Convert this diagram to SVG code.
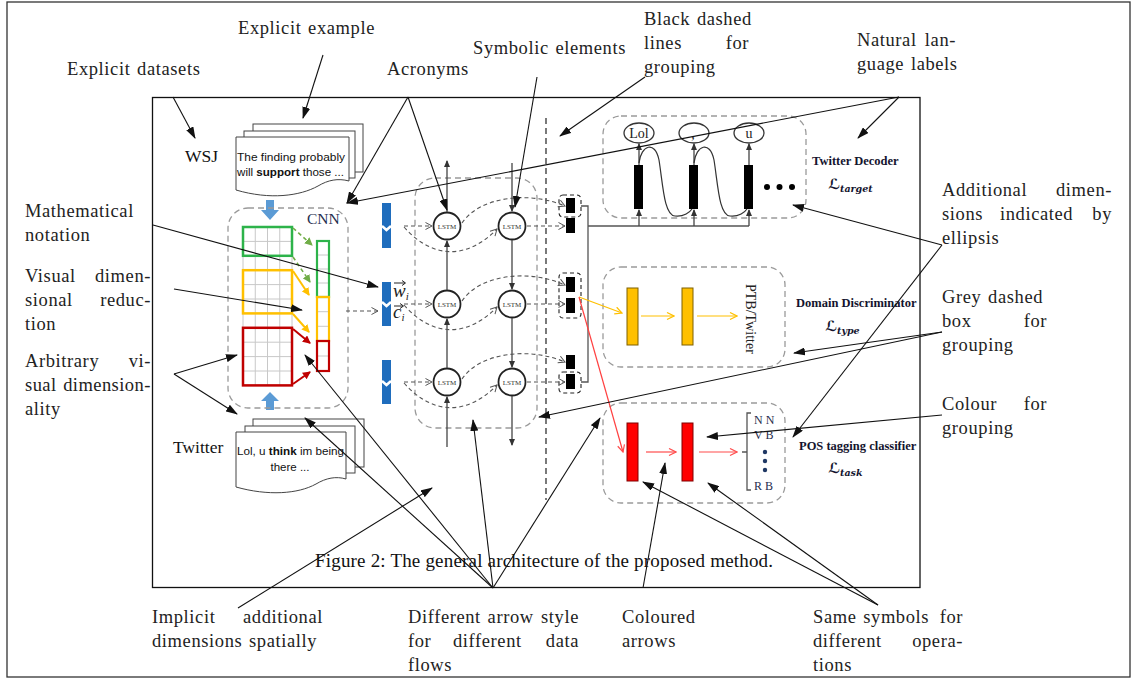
<svg xmlns="http://www.w3.org/2000/svg" width="1135" height="679" viewBox="0 0 1135 679">
<defs>
<style>
.t{font-family:"Liberation Serif","Times New Roman",serif;font-size:18.5px;fill:#222;letter-spacing:0.6px;word-spacing:1.5px}
.te{text-anchor:end}
.ann{fill:none;stroke:#111;stroke-width:1.1;marker-end:url(#mA)}
.gbox{fill:none;stroke:#9a9a9a;stroke-width:1.3;stroke-dasharray:6 4}
.dflow{fill:none;stroke:#555;stroke-width:1.1;stroke-dasharray:4 3;marker-end:url(#mO)}
.cir{fill:#fff;stroke:#222;stroke-width:1.8}
.lt{font-family:"Liberation Serif",serif;font-size:7px;text-anchor:middle;fill:#333}
.vl{fill:none;stroke:#444;stroke-width:1.3}
.vla{fill:none;stroke:#444;stroke-width:1.3;marker-end:url(#mS)}
.grid{stroke:#c8c8c8;stroke-width:1}
.fig{font-family:"Liberation Serif","Times New Roman",serif;fill:#111}
.bold{font-family:"Liberation Serif","Times New Roman",serif;font-weight:bold;font-size:12.5px;fill:#14142e}
.ls{font-family:"DejaVu Serif","DejaVu Sans",serif;font-weight:bold;font-style:italic;font-size:14px;fill:#14142e}
.doc{fill:#fff;stroke:#444;stroke-width:1}
.dt{font-family:"Liberation Sans",Arial,sans-serif;font-size:11.5px;fill:#111}
.blue{fill:#1f6dbd}
.notch{fill:none;stroke:#fff;stroke-width:2.5}
.bdash{fill:none;stroke:#222;stroke-width:1.1;stroke-dasharray:4 3}
</style>
<marker id="mA" markerUnits="userSpaceOnUse" markerWidth="12" markerHeight="8" refX="11" refY="4" orient="auto"><path d="M0,0 L12,4 L0,8 Z" fill="#111"/></marker>
<marker id="mO" markerUnits="userSpaceOnUse" markerWidth="9" markerHeight="9" refX="7.5" refY="4" orient="auto"><path d="M1,0.5 L7.5,4 L1,7.5" fill="none" stroke="#555" stroke-width="1"/></marker>
<marker id="mS" markerUnits="userSpaceOnUse" markerWidth="7" markerHeight="6" refX="6" refY="3" orient="auto"><path d="M0,0 L7,3 L0,6 Z" fill="#333"/></marker>
<marker id="mG" markerUnits="userSpaceOnUse" markerWidth="8" markerHeight="8" refX="7" refY="4" orient="auto"><path d="M0,0 L8,4 L0,8 Z" fill="#70ad47"/></marker>
<marker id="mYF" markerUnits="userSpaceOnUse" markerWidth="8" markerHeight="8" refX="7" refY="4" orient="auto"><path d="M0,0 L8,4 L0,8 Z" fill="#ffc000"/></marker>
<marker id="mRF" markerUnits="userSpaceOnUse" markerWidth="8" markerHeight="8" refX="7" refY="4" orient="auto"><path d="M0,0 L8,4 L0,8 Z" fill="#c00000"/></marker>
<marker id="mYL" markerUnits="userSpaceOnUse" markerWidth="9" markerHeight="9" refX="8" refY="4.5" orient="auto"><path d="M1,1 L8,4.5 L1,8" fill="none" stroke="#ffc000" stroke-width="1.2"/></marker>
<marker id="mRL" markerUnits="userSpaceOnUse" markerWidth="9" markerHeight="9" refX="8" refY="4.5" orient="auto"><path d="M1,1 L8,4.5 L1,8" fill="none" stroke="#ff4d4d" stroke-width="1.2"/></marker>
</defs>

<rect x="0" y="0" width="1135" height="679" fill="#fff"/>
<rect x="7" y="2" width="1123" height="675" fill="none" stroke="#333" stroke-width="1.3"/>

<g id="figure-frame">
<rect x="152.5" y="97.5" width="767.5" height="490" fill="none" stroke="#111" stroke-width="1.3"/>
<text class="fig" x="315" y="567" font-size="19" textLength="458" lengthAdjust="spacing">Figure 2: The general architecture of the proposed method.</text>
</g>

<g id="wsj">
<text class="fig" x="185" y="162" font-size="17.5">WSJ</text>
<rect class="doc" x="253" y="124" width="110" height="48"/>
<rect class="doc" x="244" y="131" width="111" height="47"/>
<path class="doc" d="M236,137 H349 V181 C 338,178 328,180 318,186 C 300,196 270,200 236,190 Z"/>
<text class="dt" x="237" y="161" textLength="108" lengthAdjust="spacingAndGlyphs">The finding probably</text>
<text class="dt" x="237" y="176" textLength="107" lengthAdjust="spacingAndGlyphs">will <tspan font-weight="bold">support</tspan> those ...</text>
<path d="M266,200 H274 V210 H279 L270,220 L261,210 H266 Z" fill="#5b9bd5"/>
</g>

<g id="twitter">
<text class="fig" x="173" y="453" font-size="17.5">Twitter</text>
<rect class="doc" x="253" y="419" width="111" height="48"/>
<rect class="doc" x="245" y="426" width="110" height="47"/>
<path class="doc" d="M236,432 H346 V479 C 336,476 326,478 316,484 C 298,494 268,496 236,487 Z"/>
<text class="dt" x="237" y="455" textLength="107" lengthAdjust="spacingAndGlyphs">Lol, u <tspan font-weight="bold">think</tspan> im being</text>
<text class="dt" x="290" y="471" text-anchor="middle">there ...</text>
<path d="M266,410 H274 V401 H279 L270,392 L261,401 H266 Z" fill="#5b9bd5"/>
</g>

<g id="cnn">
<rect class="gbox" x="228" y="208" width="120" height="200" rx="20"/>
<text x="307" y="224" font-family="Liberation Serif, serif" font-size="15.5" fill="#1f3050">CNN</text>
<g class="grid">
<line x1="243" y1="227" x2="243" y2="385.4"/><line x1="255.25" y1="227" x2="255.25" y2="385.4"/><line x1="267.5" y1="227" x2="267.5" y2="385.4"/><line x1="279.75" y1="227" x2="279.75" y2="385.4"/><line x1="292" y1="227" x2="292" y2="385.4"/>
<line x1="243" y1="241.4" x2="292" y2="241.4"/><line x1="243" y1="255.8" x2="292" y2="255.8"/><line x1="243" y1="270.2" x2="292" y2="270.2"/><line x1="243" y1="284.6" x2="292" y2="284.6"/><line x1="243" y1="299" x2="292" y2="299"/><line x1="243" y1="313.4" x2="292" y2="313.4"/><line x1="243" y1="327.8" x2="292" y2="327.8"/><line x1="243" y1="342.2" x2="292" y2="342.2"/><line x1="243" y1="356.6" x2="292" y2="356.6"/><line x1="243" y1="371" x2="292" y2="371"/><line x1="243" y1="385.4" x2="292" y2="385.4"/>
<line x1="317" y1="255" x2="329" y2="255"/><line x1="317" y1="269" x2="329" y2="269"/><line x1="317" y1="283" x2="329" y2="283"/><line x1="317" y1="311.7" x2="329" y2="311.7"/><line x1="317" y1="326.3" x2="329" y2="326.3"/><line x1="317" y1="356" x2="329" y2="356"/>
</g>
<rect x="243" y="227" width="49" height="28.8" fill="none" stroke="#2db34a" stroke-width="2.5"/>
<rect x="243" y="270.2" width="49" height="43.2" fill="none" stroke="#ffc000" stroke-width="2.5"/>
<rect x="243" y="327.8" width="49" height="57.6" fill="none" stroke="#c00000" stroke-width="2.5"/>
<rect x="317" y="241" width="12" height="56" fill="none" stroke="#2db34a" stroke-width="2.2"/>
<rect x="317" y="297" width="12" height="44" fill="none" stroke="#ffc000" stroke-width="2.2"/>
<rect x="317" y="341" width="12" height="30" fill="none" stroke="#c00000" stroke-width="2.2"/>
<path d="M293,228 L312,245" fill="none" stroke="#70ad47" stroke-width="1.6" stroke-dasharray="4 3" marker-end="url(#mG)"/>
<path d="M293,257 L310,282" fill="none" stroke="#70ad47" stroke-width="1.6" stroke-dasharray="4 3" marker-end="url(#mG)"/>
<path d="M293,271 L309,295" fill="none" stroke="#ffc000" stroke-width="2" marker-end="url(#mYF)"/>
<path d="M293,314 L309,332" fill="none" stroke="#ffc000" stroke-width="2" marker-end="url(#mYF)"/>
<path d="M293,329 L310,343" fill="none" stroke="#c00000" stroke-width="2" marker-end="url(#mRF)"/>
<path d="M293,384 L310,372" fill="none" stroke="#c00000" stroke-width="2" marker-end="url(#mRF)"/>
</g>

<g id="inputs">
<rect class="blue" x="382" y="203" width="9" height="45"/>
<polyline class="notch" points="382,226 386.5,230 391,226"/>
<rect class="blue" x="382" y="282" width="9" height="44"/>
<polyline class="notch" points="382,302 386.5,306 391,302"/>
<rect class="blue" x="382" y="360" width="9" height="44"/>
<polyline class="notch" points="382,381 386.5,385 391,381"/>
<text x="393" y="297" font-family="Liberation Serif, serif" font-style="italic" font-size="19" fill="#222">w<tspan font-size="11" dy="3">i</tspan></text>
<path d="M394,283 H405 M402,280.5 L405.5,283 L402,285.5" fill="none" stroke="#222" stroke-width="1"/>
<text x="393" y="318" font-family="Liberation Serif, serif" font-style="italic" font-size="19" fill="#222">c<tspan font-size="11" dy="3">i</tspan></text>
<path d="M394,306 H403 M400,303.5 L403.5,306 L400,308.5" fill="none" stroke="#222" stroke-width="1"/>
</g>

<g id="bilstm">
<rect class="gbox" x="415" y="178" width="122" height="250" rx="20"/>
<circle class="cir" cx="447" cy="226" r="13.5"/><text class="lt" x="447" y="228.5">LSTM</text>
<circle class="cir" cx="512" cy="226" r="13.5"/><text class="lt" x="512" y="228.5">LSTM</text>
<circle class="cir" cx="447" cy="304" r="13.5"/><text class="lt" x="447" y="306.5">LSTM</text>
<circle class="cir" cx="512" cy="304" r="13.5"/><text class="lt" x="512" y="306.5">LSTM</text>
<circle class="cir" cx="447" cy="382" r="13.5"/><text class="lt" x="447" y="384.5">LSTM</text>
<circle class="cir" cx="512" cy="382" r="13.5"/><text class="lt" x="512" y="384.5">LSTM</text>
</g>

<g id="outputs">
<rect x="566" y="198" width="9" height="15" fill="#000"/>
<rect x="566" y="218" width="9" height="15" fill="#000"/>
<rect x="566" y="277" width="9" height="15" fill="#000"/>
<rect x="566" y="298" width="9" height="15" fill="#000"/>
<rect x="566" y="355" width="9" height="14" fill="#000"/>
<rect x="566" y="374" width="9" height="15" fill="#000"/>
<rect class="bdash" x="559" y="195" width="22" height="22" rx="4"/>
<rect class="bdash" x="559" y="273" width="22" height="45" rx="4"/>
<rect class="bdash" x="559" y="372" width="22" height="21" rx="4"/>
<line x1="546" y1="118" x2="546" y2="500" stroke="#222" stroke-width="1.2" stroke-dasharray="6 4"/>
</g>

<g id="twitter-decoder">
<rect class="gbox" x="603" y="116" width="203" height="102" rx="18"/>
<ellipse cx="639" cy="133" rx="15" ry="10" fill="#fff" stroke="#333" stroke-width="1.3"/>
<ellipse cx="694" cy="133" rx="15" ry="10" fill="#fff" stroke="#333" stroke-width="1.3"/>
<ellipse cx="749" cy="133" rx="15" ry="10" fill="#fff" stroke="#333" stroke-width="1.3"/>
<text x="639" y="138" font-family="Liberation Serif, serif" font-size="14" text-anchor="middle" fill="#222">Lol</text>
<text x="693" y="139" font-family="Liberation Serif, serif" font-size="14" text-anchor="middle" fill="#222">,</text>
<text x="749" y="138" font-family="Liberation Serif, serif" font-size="14" text-anchor="middle" fill="#222">u</text>
<rect x="634" y="165" width="9" height="44" fill="#000"/>
<rect x="689" y="165" width="9" height="44" fill="#000"/>
<rect x="744" y="165" width="9" height="44" fill="#000"/>
<circle cx="767" cy="187" r="3" fill="#000"/><circle cx="779.5" cy="187" r="3" fill="#000"/><circle cx="792" cy="187" r="3" fill="#000"/>
<text class="bold" x="812" y="165" font-size="12">Twitter Decoder</text>
<text class="ls" x="828" y="189">ℒ<tspan font-size="9.5" dy="3">target</tspan></text>
</g>

<g id="domain-discriminator">
<rect class="gbox" x="603" y="267" width="182" height="100" rx="18"/>
<rect x="627" y="288" width="11" height="57" fill="#ffc000" stroke="#7f6000" stroke-width="1"/>
<rect x="682" y="288" width="11" height="57" fill="#ffc000" stroke="#7f6000" stroke-width="1"/>
<text x="746" y="284" transform="rotate(90 746 284)" font-family="Liberation Serif, serif" font-size="14" fill="#222">PTB/Twitter</text>
<text class="bold" x="796" y="307">Domain Discriminator</text>
<text class="ls" x="825" y="331">ℒ<tspan font-size="9.5" dy="3">type</tspan></text>
</g>

<g id="pos-classifier">
<rect class="gbox" x="603" y="403" width="182" height="100" rx="18"/>
<rect x="627" y="423" width="11" height="58" fill="#ff0000" stroke="#800000" stroke-width="1"/>
<rect x="682" y="423" width="11" height="58" fill="#ff0000" stroke="#800000" stroke-width="1"/>
<path d="M742,452 H747 M751,413 H747 V490 H751" fill="none" stroke="#555" stroke-width="1.3"/>
<g font-family="Liberation Serif, serif" font-size="12" fill="#1f2d4d">
<text x="754" y="424">N N</text>
<text x="754" y="439">V B</text>
<text x="754" y="490">R B</text>
</g>
<circle cx="765" cy="452" r="2.2" fill="#1f3864"/><circle cx="765" cy="461" r="2.2" fill="#1f3864"/><circle cx="765" cy="470" r="2.2" fill="#1f3864"/>
<text class="bold" x="799" y="450">POS tagging classifier</text>
<text class="ls" x="828" y="473">ℒ<tspan font-size="9.5" dy="3">task</tspan></text>
</g>

<g id="connectors">
<path d="M346,311 H378" class="dflow"/>
<path class="vla" d="M447,447 V397"/>
<path class="vla" d="M447,368 V319"/><path class="vla" d="M447,290 V241"/><path class="vla" d="M447,212 V161"/>
<path class="vla" d="M512,163 V211"/><path class="vla" d="M512,240 V289"/><path class="vla" d="M512,318 V367"/><path class="vla" d="M512,396 V445"/>
<path class="dflow" d="M404,226 H432"/><path class="dflow" d="M404,227 C 435,262 470,257 497,229"/><path class="dflow" d="M462,223 C 480,196 530,191 565,206"/><path class="dflow" d="M527,226 H565"/>
<path class="dflow" d="M404,304 H432"/><path class="dflow" d="M404,305 C 435,340 470,335 497,307"/><path class="dflow" d="M462,301 C 480,274 530,269 565,285"/><path class="dflow" d="M527,304 H565"/>
<path class="dflow" d="M404,382 H432"/><path class="dflow" d="M404,383 C 435,418 470,413 497,385"/><path class="dflow" d="M462,379 C 480,352 530,347 565,362"/><path class="dflow" d="M527,382 H565"/>
<path d="M581,206 H588 V382 H581 M588,226 H749" fill="none" stroke="#555" stroke-width="1.3"/>
<path class="vla" d="M639,226 V210"/><path class="vla" d="M694,226 V210"/><path class="vla" d="M749,226 V210"/>
<path class="vla" d="M639,165 V144"/><path class="vla" d="M694,165 V144"/><path class="vla" d="M749,165 V144"/>
<path d="M639,163 C 641,145 655,140 659,160 C 663,185 664,215 675,216 C 684,217 690,212 692,209" fill="none" stroke="#333" stroke-width="1.2"/>
<path d="M694,163 C 696,145 710,140 714,160 C 718,185 719,215 730,216 C 739,217 745,212 747,209" fill="none" stroke="#333" stroke-width="1.2"/>
<path d="M579,297 L622,313" fill="none" stroke="#ffc000" stroke-width="1.2" marker-end="url(#mYL)"/>
<path d="M579,297 L623,452" fill="none" stroke="#ff4040" stroke-width="1.2" marker-end="url(#mRL)"/>
<path d="M641,316 H674" fill="none" stroke="#ffc000" stroke-width="1.2" marker-end="url(#mYL)"/>
<path d="M697,316 H737" fill="none" stroke="#ffc000" stroke-width="1.2" marker-end="url(#mYL)"/>
<path d="M646,452 H676" fill="none" stroke="#ff4d4d" stroke-width="1.2" marker-end="url(#mRL)"/>
<path d="M699,452 H737" fill="none" stroke="#ff4d4d" stroke-width="1.2" marker-end="url(#mRL)"/>
</g>

<g id="annotation-arrows">
<path class="ann" d="M323,55 L303,118"/>
<path class="ann" d="M173,97 L195,138"/>
<path class="ann" d="M408,97 L347,203"/>
<path class="ann" d="M408,97 L447,210"/>
<path class="ann" d="M537,77 L515,207"/>
<path class="ann" d="M645,77 L560,136"/>
<path class="ann" d="M899,97 L347,203"/>
<path class="ann" d="M899,97 L858,138"/>
<path class="ann" d="M942,245 L793,205"/>
<path class="ann" d="M942,245 L793,437"/>
<path class="ann" d="M942,332 L794,353"/>
<path class="ann" d="M942,332 L539,417"/>
<path class="ann" d="M942,415 L707,437"/>
<path class="ann" d="M153,225 L378,287"/>
<path class="ann" d="M174,289 L302,310"/>
<path class="ann" d="M174,374 L237,355"/>
<path class="ann" d="M174,374 L237,414"/>
<path class="ann" d="M238,608 L432,488"/>
<path class="ann" d="M493,588 L305,418"/>
<path class="ann" d="M493,588 L305,355"/>
<path class="ann" d="M493,588 L473,420"/>
<path class="ann" d="M493,588 L600,418"/>
<path class="ann" d="M643,588 L665,463"/>
<path class="ann" d="M878,605 L643,482"/>
<path class="ann" d="M878,605 L708,483"/>
</g>

<g id="annotation-labels">
<text class="t" x="238" y="34">Explicit example</text>
<text class="t" x="67" y="75">Explicit datasets</text>
<text class="t" x="387" y="75">Acronyms</text>
<text class="t" x="473" y="54">Symbolic elements</text>
<text class="t" x="644" y="25">Black dashed</text>
<text class="t" x="644" y="49">lines</text><text class="t te" x="749" y="49">for</text>
<text class="t" x="644" y="73">grouping</text>
<text class="t" x="857" y="46">Natural</text><text class="t te" x="956" y="46">lan-</text>
<text class="t" x="857" y="70">guage labels</text>
<text class="t" x="942" y="196">Additional</text><text class="t te" x="1112" y="196">dimen-</text>
<text class="t" x="942" y="220">sions</text><text class="t" x="1000" y="220">indicated</text><text class="t te" x="1112" y="220">by</text>
<text class="t" x="942" y="244">ellipsis</text>
<text class="t" x="942" y="303">Grey dashed</text>
<text class="t" x="942" y="327">box</text><text class="t te" x="1047" y="327">for</text>
<text class="t" x="942" y="351">grouping</text>
<text class="t" x="942" y="410">Colour</text><text class="t te" x="1047" y="410">for</text>
<text class="t" x="942" y="434">grouping</text>
<text class="t" x="25" y="217">Mathematical</text>
<text class="t" x="25" y="241">notation</text>
<text class="t" x="25" y="282">Visual</text><text class="t te" x="151" y="282">dimen-</text>
<text class="t" x="25" y="306">sional</text><text class="t te" x="151" y="306">reduc-</text>
<text class="t" x="25" y="330">tion</text>
<text class="t" x="25" y="367">Arbitrary</text><text class="t te" x="151" y="367">vi-</text>
<text class="t" x="25" y="391" textLength="126" lengthAdjust="spacing">sual dimension-</text>
<text class="t" x="25" y="415">ality</text>
<text class="t" x="152" y="623">Implicit</text><text class="t te" x="323" y="623">additional</text>
<text class="t" x="152" y="647">dimensions spatially</text>
<text class="t" x="408" y="623">Different arrow</text><text class="t te" x="579" y="623">style</text>
<text class="t" x="408" y="647">for</text><text class="t" x="453" y="647">different</text><text class="t te" x="579" y="647">data</text>
<text class="t" x="408" y="671">flows</text>
<text class="t" x="622" y="623">Coloured</text>
<text class="t" x="622" y="647">arrows</text>
<text class="t" x="813" y="623">Same symbols</text><text class="t te" x="963" y="623">for</text>
<text class="t" x="813" y="647">different</text><text class="t te" x="963" y="647">opera-</text>
<text class="t" x="813" y="671">tions</text>
</g>
</svg>
